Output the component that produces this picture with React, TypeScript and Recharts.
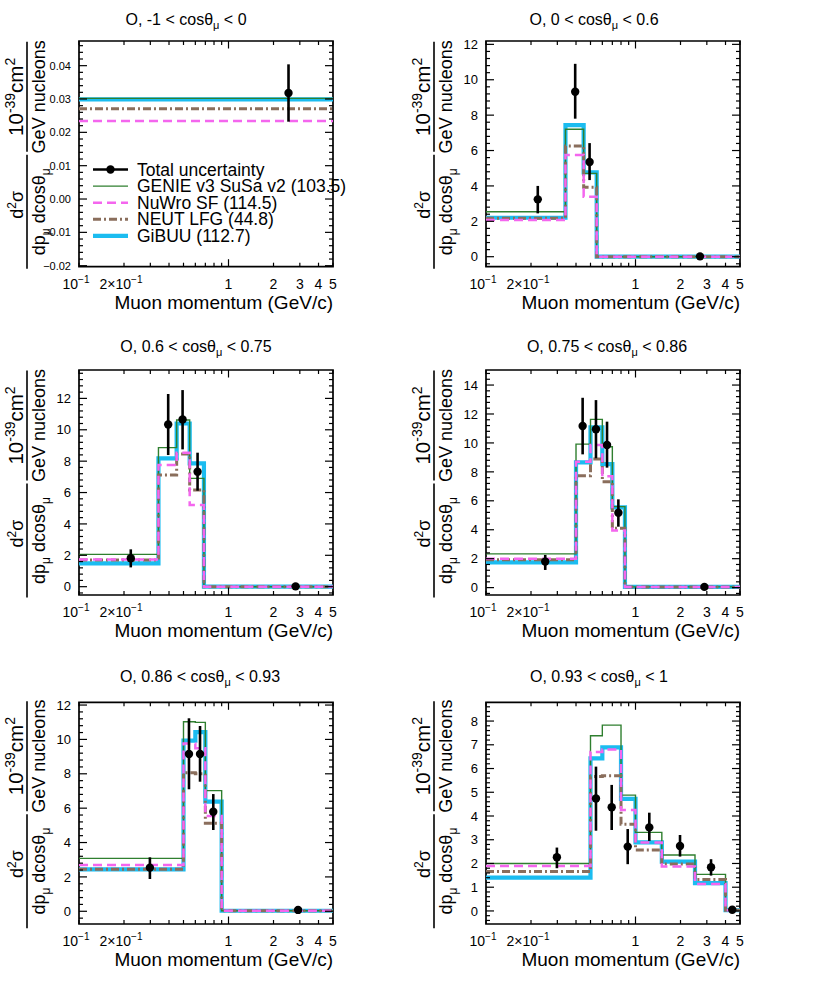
import { ComposedChart, Line, Scatter, ErrorBar, XAxis, YAxis, ReferenceArea } from 'recharts';

const FONT = "'Liberation Sans', Arial, Helvetica, sans-serif";

// ---- panel 1: -1 < cos < 0
const edges1 = [0.1, 5];
const genie1 = [0.0302];
const nuwro1 = [0.0234];
const neut1 = [0.0271];
const gibuu1 = [0.0299];
const dataX1 = [2.52];
const dataY1 = [0.0318];
const dataLo1 = [0.0232];
const dataHi1 = [0.0404];

// ---- panel 2: 0 < cos < 0.6
const edges2 = [0.1, 0.34, 0.45, 0.55, 5];
const genie2 = [2.54, 7.2, 4.71, 0];
const nuwro2 = [2.07, 5.75, 3.39, 0];
const neut2 = [2.17, 6.25, 3.92, 0];
const gibuu2 = [2.2, 7.44, 4.77, 0];
const dataX2 = [0.222, 0.395, 0.493, 2.7];
const dataY2 = [3.24, 9.32, 5.35, 0.02];
const dataLo2 = [2.45, 7.8, 4.33, 0];
const dataHi2 = [4.0, 10.9, 6.42, 0.05];

// ---- panel 3: 0.6 < cos < 0.75
const edges3 = [0.1, 0.34, 0.45, 0.55, 0.685, 5];
const genie3 = [2.06, 8.86, 10.62, 6.9, 0];
const nuwro3 = [1.74, 7.75, 8.54, 5.2, 0];
const neut3 = [1.7, 7.12, 8.45, 6.16, 0];
const gibuu3 = [1.49, 8.18, 10.4, 7.86, 0];
const dataX3 = [0.222, 0.395, 0.493, 0.621, 2.81];
const dataY3 = [1.81, 10.34, 10.66, 7.33, 0.02];
const dataLo3 = [1.23, 8.39, 8.75, 6.12, 0];
const dataHi3 = [2.38, 12.28, 12.53, 8.54, 0.05];

// ---- panel 4: 0.75 < cos < 0.86
const edges4 = [0.1, 0.4, 0.5, 0.6, 0.7, 0.85, 5];
const genie4 = [2.33, 9.92, 11.63, 9.74, 5.6, 0.05];
const nuwro4 = [2.0, 8.7, 9.85, 7.7, 3.95, 0.05];
const neut4 = [1.93, 7.74, 8.89, 7.32, 4.1, 0.05];
const gibuu4 = [1.75, 8.66, 11.08, 8.54, 5.55, 0.05];
const dataX4 = [0.249, 0.443, 0.544, 0.645, 0.768, 2.89];
const dataY4 = [1.8, 11.17, 10.94, 9.86, 5.18, 0.05];
const dataLo4 = [1.22, 9.21, 8.94, 8.29, 4.21, 0.02];
const dataHi4 = [2.26, 13.12, 12.96, 11.47, 6.1, 0.08];

// ---- panel 5: 0.86 < cos < 0.93
const edges5 = [0.1, 0.5, 0.6, 0.7, 0.9, 5];
const genie5 = [3.08, 11.03, 10.99, 7.02, 0.03];
const nuwro5 = [2.69, 9.77, 9.48, 5.54, 0.03];
const neut5 = [2.44, 8.06, 8.0, 5.12, 0.03];
const gibuu5 = [2.44, 9.93, 10.43, 6.38, 0.03];
const dataX5 = [0.298, 0.544, 0.645, 0.791, 2.92];
const dataY5 = [2.54, 9.15, 9.15, 5.79, 0.08];
const dataLo5 = [1.88, 7.1, 7.54, 4.73, 0.05];
const dataHi5 = [3.14, 11.23, 10.78, 6.82, 0.11];

// ---- panel 6: 0.93 < cos < 1
const edges6 = [0.1, 0.5, 0.6, 0.8, 1.0, 1.5, 2.5, 4.0, 5];
const genie6 = [2.0, 7.38, 7.83, 4.88, 3.31, 2.36, 1.54, 0.03];
const nuwro6 = [1.89, 6.7, 6.8, 4.25, 2.88, 1.87, 1.14, 0.03];
const neut6 = [1.66, 5.66, 5.7, 3.65, 2.57, 1.98, 1.33, 0.03];
const gibuu6 = [1.4, 6.43, 6.89, 4.72, 2.89, 2.08, 1.17, 0.03];
const dataX6 = [0.298, 0.544, 0.693, 0.887, 1.237, 1.985, 3.2, 4.44];
const dataY6 = [2.26, 4.74, 4.37, 2.71, 3.52, 2.74, 1.84, 0.05];
const dataLo6 = [1.8, 3.38, 3.41, 1.97, 2.95, 2.29, 1.49, 0.02];
const dataHi6 = [2.67, 6.08, 5.31, 3.45, 4.14, 3.2, 2.18, 0.08];

// axes
const xTickVals = [0.1, 0.2, 0.3, 0.4, 0.5, 0.6, 0.7, 0.8, 0.9, 1, 2, 3, 4, 5];
const xLabelVals = [0.1, 0.2, 1, 2, 3, 4, 5];
const yMajor1 = [-0.02, -0.01, 0, 0.01, 0.02, 0.03, 0.04];
const yMajor12 = [0, 2, 4, 6, 8, 10, 12];
const yMajor14 = [0, 2, 4, 6, 8, 10, 12, 14];
const yMajor8 = [0, 1, 2, 3, 4, 5, 6, 7, 8];
const titleLo = ['-1', '0', '0.6', '0.75', '0.86', '0.93'];
const titleHi = ['0', '0.6', '0.75', '0.86', '0.93', '1'];
const legendNames = [
  'Total uncertainty',
  'GENIE v3 SuSa v2 (103.5)',
  'NuWro SF (114.5)',
  'NEUT LFG (44.8)',
  'GiBUU (112.7)',
];

const GENIE_C = '#2f7f2f';
const NUWRO_C = '#f466ee';
const NEUT_C = '#8a6e5c';
const GIBUU_C = '#1bbcf0';

const CHART_W = 407;
const CHART_H = 320;
const PLOT_W = 254;
const ROW_TOP = [0, 320, 650];
const FRAME_TOP = [41, 370, 702.3];
const FRAME_BOTTOM = [266.7, 595, 924];
const TITLE_X = [186, 594, 196, 607, 200, 599];
const TITLE_Y = [25, 25, 352, 352, 682, 682];

const fmtSmall = (v: number) => {
  const s = Math.abs(v).toFixed(2);
  return v < -1e-9 ? '\u2212' + s : s;
};
const fmtInt = (v: number) => String(v);

const steps = (edges: number[], vals: number[]) =>
  edges.map((x, i) => ({ x, y: vals[Math.min(i, vals.length - 1)] }));

const points = (xs: number[], ys: number[], lo: number[], hi: number[]) =>
  xs.map((x, i) => ({ x, y: ys[i], err: [ys[i] - lo[i], hi[i] - ys[i]] }));

const minorTicks = (domain: number[], step: number) => {
  const out: number[] = [];
  const start = Math.ceil(domain[0] / step - 1e-9);
  const end = Math.floor(domain[1] / step + 1e-9);
  for (let i = start; i <= end; i++) out.push(Math.round(i * step * 1e6) / 1e6);
  return out;
};

const panels = [
  { edges: edges1, genie: genie1, nuwro: nuwro1, neut: neut1, gibuu: gibuu1, pts: points(dataX1, dataY1, dataLo1, dataHi1), domain: [-0.0203, 0.0474], major: yMajor1, step: 0.002, font: 11, fmt: fmtSmall },
  { edges: edges2, genie: genie2, nuwro: nuwro2, neut: neut2, gibuu: gibuu2, pts: points(dataX2, dataY2, dataLo2, dataHi2), domain: [-0.565, 12.19], major: yMajor12, step: 0.4, font: 13, fmt: fmtInt },
  { edges: edges3, genie: genie3, nuwro: nuwro3, neut: neut3, gibuu: gibuu3, pts: points(dataX3, dataY3, dataLo3, dataHi3), domain: [-0.53, 13.81], major: yMajor12, step: 0.4, font: 13, fmt: fmtInt },
  { edges: edges4, genie: genie4, nuwro: nuwro4, neut: neut4, gibuu: gibuu4, pts: points(dataX4, dataY4, dataLo4, dataHi4), domain: [-0.51, 15.04], major: yMajor14, step: 0.4, font: 13, fmt: fmtInt },
  { edges: edges5, genie: genie5, nuwro: nuwro5, neut: neut5, gibuu: gibuu5, pts: points(dataX5, dataY5, dataLo5, dataHi5), domain: [-0.74, 12.16], major: yMajor12, step: 0.4, font: 13, fmt: fmtInt },
  { edges: edges6, genie: genie6, nuwro: nuwro6, neut: neut6, gibuu: gibuu6, pts: points(dataX6, dataY6, dataLo6, dataHi6), domain: [-0.55, 8.79], major: yMajor8, step: 0.2, font: 13, fmt: fmtInt },
];

const XLabel = ({ v, x, y }: { v: number; x: number; y: number }) => {
  if (v === 0.1 || v === 0.2) {
    return (
      <text x={x - 3} y={y} textAnchor="middle" fontSize={14} fontFamily={FONT} fill="#000">
        {v === 0.2 ? '2\u00d710' : '10'}
        <tspan dy={-6} fontSize={10}>{'\u22121'}</tspan>
      </text>
    );
  }
  return (
    <text x={x} y={y} textAnchor="middle" fontSize={14} fontFamily={FONT} fill="#000">
      {String(v)}
    </text>
  );
};

function Panel({ idx }: { idx: number }) {
  const cfg = panels[idx];
  const row = Math.floor(idx / 2);
  const col = idx % 2;
  const rowTop = ROW_TOP[row];
  const fT = FRAME_TOP[row] - rowTop;
  const fB = FRAME_BOTTOM[row] - rowTop;
  const plotH = fB - fT;
  const margin = { top: fT, left: 39, right: CHART_W - 79 - PLOT_W, bottom: CHART_H - fB - 30 };
  const yTicks = minorTicks(cfg.domain, cfg.step);

  const yTick = (props: any) => {
    const { x, y, payload } = props;
    const v = payload.value;
    const major = cfg.major.some((m) => Math.abs(m - v) < 1e-7);
    const len = major ? 8 : 4;
    return (
      <g>
        <line x1={x} x2={x + len} y1={y} y2={y} stroke="#000" strokeWidth={1.2} />
        <line x1={x + PLOT_W - len} x2={x + PLOT_W} y1={y} y2={y} stroke="#000" strokeWidth={1.2} />
        {major && (
          <text x={x - 8} y={y} dy="0.36em" textAnchor="end" fontSize={cfg.font} fontFamily={FONT} fill="#000">
            {cfg.fmt(v)}
          </text>
        )}
      </g>
    );
  };

  const xTick = (props: any) => {
    const { x, y, payload } = props;
    const v = payload.value;
    const len = v === 1 ? 7.5 : 4;
    return (
      <g>
        <line x1={x} x2={x} y1={y} y2={y - len} stroke="#000" strokeWidth={1.2} />
        <line x1={x} x2={x} y1={y - plotH} y2={y - plotH + len} stroke="#000" strokeWidth={1.2} />
        {xLabelVals.includes(v) && <XLabel v={v} x={x} y={y + 22} />}
      </g>
    );
  };

  return (
    <div style={{ position: 'absolute', left: col * CHART_W, top: rowTop }}>
      <ComposedChart width={CHART_W} height={CHART_H} margin={margin}>
        <XAxis
          dataKey="x"
          type="number"
          scale="log"
          domain={[0.1, 5]}
          allowDataOverflow
          ticks={xTickVals}
          interval={0}
          tickSize={0}
          tickMargin={0}
          axisLine={false}
          tickLine={false}
          height={30}
          tick={xTick}
        />
        <YAxis
          type="number"
          domain={cfg.domain}
          allowDataOverflow
          ticks={yTicks}
          interval={0}
          width={40}
          tickSize={0}
          tickMargin={0}
          axisLine={false}
          tickLine={false}
          tick={yTick}
        />
        <Line data={steps(cfg.edges, cfg.gibuu)} dataKey="y" type="stepAfter" stroke={GIBUU_C} strokeWidth={4.2} dot={false} activeDot={false} isAnimationActive={false} />
        <Line data={steps(cfg.edges, cfg.genie)} dataKey="y" type="stepAfter" stroke={GENIE_C} strokeWidth={1.4} dot={false} activeDot={false} isAnimationActive={false} />
        <Line data={steps(cfg.edges, cfg.neut)} dataKey="y" type="stepAfter" stroke={NEUT_C} strokeWidth={3} strokeDasharray="8 3 2 3" dot={false} activeDot={false} isAnimationActive={false} />
        <Line data={steps(cfg.edges, cfg.nuwro)} dataKey="y" type="stepAfter" stroke={NUWRO_C} strokeWidth={2.5} strokeDasharray="9 5" dot={false} activeDot={false} isAnimationActive={false} />
        <Scatter
          data={cfg.pts}
          dataKey="y"
          isAnimationActive={false}
          shape={(p: any) => <circle cx={p.cx} cy={p.cy} r={4.2} fill="#000" />}
        >
          <ErrorBar dataKey="err" direction="y" width={0} stroke="#000" strokeWidth={2.6} />
        </Scatter>
        <ReferenceArea x1={0.1} x2={5} y1={cfg.domain[0]} y2={cfg.domain[1]} fill="none" stroke="#000" strokeWidth={1.7} ifOverflow="visible" />
      </ComposedChart>
    </div>
  );
}

const YLabel = ({ bx, cy1, cy2 }: { bx: number; cy1: number; cy2: number }) => (
  <g fontFamily={FONT} fill="#000">
    <g transform={`translate(${bx},${cy1}) rotate(-90)`}>
      <line x1={-55} x2={55} y1={0} y2={0} stroke="#000" strokeWidth={1.6} />
      <text x={0} y={-4} textAnchor="middle" fontSize={20.5}>
        10<tspan dy={-8} fontSize={14}>{'-39'}</tspan>
        <tspan dy={8}>cm</tspan>
        <tspan dy={-8} fontSize={14}>2</tspan>
      </text>
      <text x={0} y={17.5} textAnchor="middle" fontSize={18}>GeV nucleons</text>
    </g>
    <g transform={`translate(${bx},${cy2}) rotate(-90)`}>
      <line x1={-57} x2={57} y1={0} y2={0} stroke="#000" strokeWidth={1.6} />
      <text x={7} y={-4} textAnchor="middle" fontSize={18}>
        d<tspan dy={-7} fontSize={12}>2</tspan>
        <tspan dy={7}>{'\u03c3'}</tspan>
      </text>
      <text x={0} y={17.5} textAnchor="middle" fontSize={18}>
        dp<tspan dy={5} fontSize={12}>{'\u03bc'}</tspan>
        <tspan dy={-5}>{' dcos\u03b8'}</tspan>
        <tspan dy={5} fontSize={12}>{'\u03bc'}</tspan>
      </text>
    </g>
  </g>
);

const Legend = () => {
  const y0 = 169.5;
  const dy = 16.6;
  const styles = [
    { c: '#000', w: 2.6, d: undefined },
    { c: GENIE_C, w: 1.4, d: undefined },
    { c: NUWRO_C, w: 2.5, d: '9 5' },
    { c: NEUT_C, w: 3, d: '8 3 2 3' },
    { c: GIBUU_C, w: 4.2, d: undefined },
  ];
  return (
    <g fontFamily={FONT}>
      {legendNames.map((name, i) => {
        const y = y0 + i * dy;
        return (
          <g key={name}>
            <line x1={93} x2={128} y1={y} y2={y} stroke={styles[i].c} strokeWidth={styles[i].w} strokeDasharray={styles[i].d} />
            {i === 0 && <circle cx={110.5} cy={y} r={4.2} fill="#000" />}
            <text x={137} y={y + 6} fontSize={17.5} fill="#000">{name}</text>
          </g>
        );
      })}
    </g>
  );
};

export default function App() {
  return (
    <div style={{ position: 'absolute', left: 0, top: 0, width: 814, height: 986, background: '#fff' }}>
      {panels.map((_, i) => (
        <Panel key={i} idx={i} />
      ))}
      <svg width={814} height={986} style={{ position: 'absolute', left: 0, top: 0, pointerEvents: 'none' }}>
        {panels.map((_, i) => {
          const row = Math.floor(i / 2);
          const col = i % 2;
          const mid = (FRAME_TOP[row] + FRAME_BOTTOM[row]) / 2;
          const frameR = col * CHART_W + 79 + PLOT_W;
          return (
            <g key={i}>
              <text x={TITLE_X[i]} y={TITLE_Y[i]} textAnchor="middle" fontSize={16} fontFamily={FONT} fill="#000">
                {`O, ${titleLo[i]} < cos\u03b8`}
                <tspan dy={4} fontSize={11}>{'\u03bc'}</tspan>
                <tspan dy={-4}>{` < ${titleHi[i]}`}</tspan>
              </text>
              <YLabel bx={col * CHART_W + 27} cy1={mid - 57} cy2={mid + 58} />
              <text x={frameR} y={FRAME_BOTTOM[row] + 42} textAnchor="end" fontSize={19} fontFamily={FONT} fill="#000">
                Muon momentum (GeV/c)
              </text>
            </g>
          );
        })}
        <Legend />
      </svg>
    </div>
  );
}
